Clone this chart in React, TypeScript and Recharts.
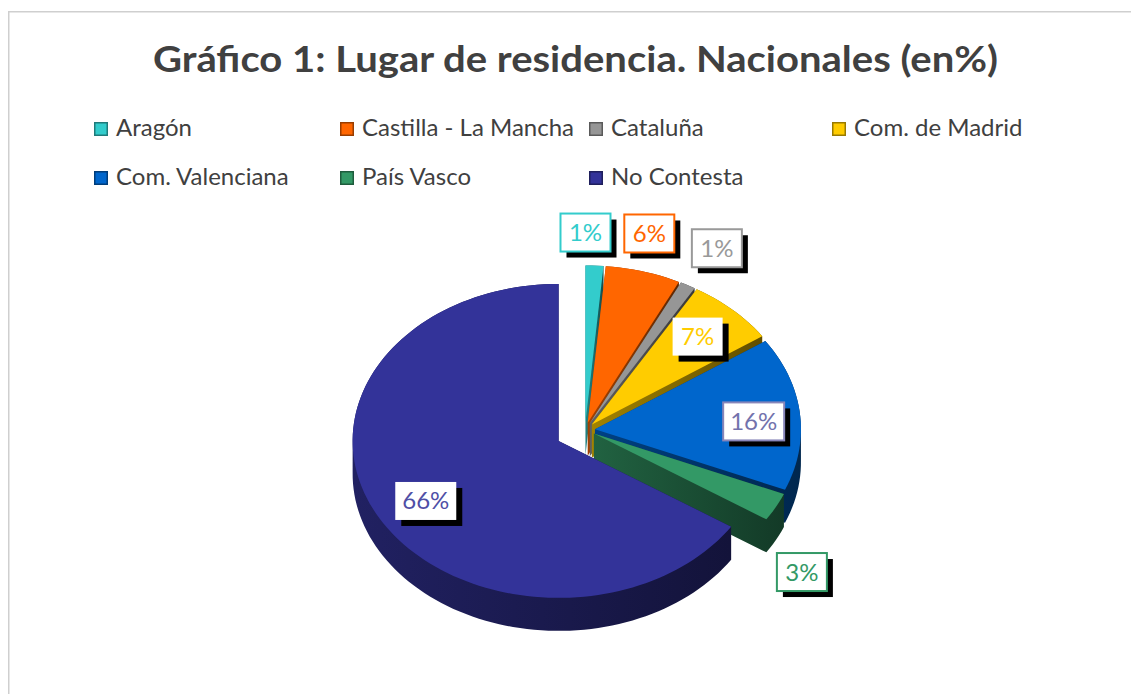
import React from 'react';
import { PieChart, Pie, Cell, Legend } from 'recharts';

const REGIONS = ['Aragón', 'Castilla - La Mancha', 'Cataluña', 'Com. de Madrid', 'Com. Valenciana', 'País Vasco', 'No Contesta'];
const SHARES = [1.4, 5.9, 1.2, 7.0, 15.8, 2.9, 65.8];
const COLORS = ['#33CCCC', '#FF6600', '#969696', '#FFCC00', '#0066CC', '#339966', '#333399'];

const data = REGIONS.map((name, i) => ({ name, value: SHARES[i] }));

// 3d look
const TILT = 157 / 206;
const DEPTH = 33;
const EXPLODE = [10, 10, 10, 10, 10, 10, 30];

// value boxes
const LABEL_INSIDE = [false, false, false, true, true, false, true];
const LABEL_NUDGE = [[-9, -33], [6, -38], [29, -37], [0, -2], [5, 4], [26, 65], [3, 4]];
const LABEL_TEXT = ['#33CCCC', '#FF6600', '#999999', '#FFCC00', '#7272AC', '#339966', '#4F4FA6'];
const LABEL_BORDER = ['#33CCCC', '#FF6600', '#999999', 'none', '#8886BA', '#339966', 'none'];

const LEGEND_COLS = [94, 340, 589, 832];
const LEGEND_ROWS = [122, 171];

const FONT = "Lato, 'Open Sans', sans-serif";
const RAD = Math.PI / 180;

type Pt = [number, number];

const shade = (hex: string, f: number) => {
  const n = parseInt(hex.slice(1), 16);
  const r = Math.round(((n >> 16) & 255) * f);
  const g = Math.round(((n >> 8) & 255) * f);
  const b = Math.round((n & 255) * f);
  return `rgb(${r},${g},${b})`;
};

const toPath = (pts: Pt[]) => 'M' + pts.map(([x, y]) => `${x.toFixed(2)},${y.toFixed(2)}`).join('L') + 'Z';

const area = (pts: Pt[]) => {
  let s = 0;
  for (let i = 0; i < pts.length; i++) {
    const a = pts[i];
    const b = pts[(i + 1) % pts.length];
    s += a[0] * b[1] - b[0] * a[1];
  }
  return s / 2;
};

const orient = (q: Pt[]) => (area(q) < 0 ? [...q].reverse() : q);

function sliceGeometry(p: any) {
  const idx = p.index ?? REGIONS.indexOf(p.name);
  const e = EXPLODE[idx] ?? 0;
  const m = p.midAngle * RAD;
  const ax = p.cx + e * Math.cos(m);
  const ay = p.cy - e * TILT * Math.sin(m);
  const rx = p.outerRadius;
  const ry = p.outerRadius * TILT;
  const span = p.endAngle - p.startAngle;
  const steps = Math.max(2, Math.ceil(Math.abs(span) / 2));
  const pts: Pt[] = [[ax, ay]];
  for (let s = 0; s <= steps; s++) {
    const a = (p.startAngle + (span * s) / steps) * RAD;
    pts.push([ax + rx * Math.cos(a), ay - ry * Math.sin(a)]);
  }
  return { idx, pts, ax, ay, rx, ry, m };
}

function extrusionPath(pts: Pt[]) {
  const parts: string[] = [];
  parts.push(toPath(orient(pts.map(([x, y]) => [x, y + DEPTH] as Pt))));
  for (let i = 0; i < pts.length; i++) {
    const a = pts[i];
    const b = pts[(i + 1) % pts.length];
    const q: Pt[] = [a, b, [b[0], b[1] + DEPTH], [a[0], a[1] + DEPTH]];
    if (Math.abs(area(q)) < 0.01) continue;
    parts.push(toPath(orient(q)));
  }
  return parts.join(' ');
}

const renderSlice = (props: any) => {
  const { idx, pts } = sliceGeometry(props);
  const color = COLORS[idx];
  const gid = `side-${idx}`;
  return (
    <g key={`slice-${idx}`}>
      <defs>
        <linearGradient id={gid} x1="0" y1="0" x2="1" y2="0">
          <stop offset="0" stopColor={shade(color, 0.64)} />
          <stop offset="1" stopColor={shade(color, 0.38)} />
        </linearGradient>
      </defs>
      <path d={extrusionPath(pts)} fill={`url(#${gid})`} />
      <path d={toPath(pts)} fill={color} />
    </g>
  );
};

const renderValueBox = (props: any) => {
  const { idx, ax, ay, rx, ry, m } = sliceGeometry(props);
  const f = LABEL_INSIDE[idx] ? 0.75 : 1;
  const [nx, ny] = LABEL_NUDGE[idx];
  const x = ax + f * rx * Math.cos(m) + nx;
  const y = ay - f * ry * Math.sin(m) + ny;
  const text = `${Math.round(props.percent * 100)}%`;
  const w = text.length > 2 ? 61 : 50;
  const h = 38;
  return (
    <g key={`box-${idx}`}>
      <rect x={x - w / 2 + 6} y={y - h / 2 + 6} width={w} height={h} fill="#000" />
      <rect
        x={x - w / 2}
        y={y - h / 2}
        width={w}
        height={h}
        fill="#fff"
        stroke={LABEL_BORDER[idx]}
        strokeWidth={2}
      />
      <text x={x} y={y + 8.5} textAnchor="middle" fontFamily={FONT} fontSize={24} fill={LABEL_TEXT[idx]}>
        {text}
      </text>
    </g>
  );
};

const LegendGrid = () => (
  <svg width={1131} height={200} style={{ display: 'block' }}>
    {REGIONS.map((name, i) => {
      const x = LEGEND_COLS[i % 4];
      const y = LEGEND_ROWS[Math.floor(i / 4)];
      return (
        <g key={name}>
          <rect x={x + 0.75} y={y + 0.75} width={12.5} height={12.5} fill={COLORS[i]} stroke={shade(COLORS[i], 0.6)} strokeWidth={1.5} />
          <text x={x + 22} y={y + 14} fontFamily={FONT} fontSize={24} fill="#404040">
            {name}
          </text>
        </g>
      );
    })}
  </svg>
);

export default function App() {
  return (
    <div style={{ position: 'absolute', left: 0, top: 0, width: 1131, height: 694, background: '#fff', overflow: 'hidden' }}>
      <svg width={1131} height={694} style={{ position: 'absolute', left: 0, top: 0 }}>
        <rect x={8.75} y={11.75} width={1200} height={800} fill="none" stroke="#cfcfcf" strokeWidth={1.5} />
        <text x={153} y={72} fontFamily={FONT} fontWeight={700} fontSize={36} fill="#404040" textLength={845} lengthAdjust="spacingAndGlyphs">
          Gráfico 1: Lugar de residencia. Nacionales (en%)
        </text>
      </svg>
      <div style={{ position: 'absolute', left: 0, top: 0 }}>
        <PieChart width={1131} height={694} margin={{ top: 0, right: 0, bottom: 0, left: 0 }}>
          <Pie
            data={data}
            dataKey="value"
            nameKey="name"
            cx={585}
            cy={430}
            outerRadius={206}
            startAngle={90}
            endAngle={-270}
            stroke="none"
            isAnimationActive={false}
            labelLine={false}
            label={renderSlice}
          >
            {data.map((d) => (
              <Cell key={d.name} fill="transparent" />
            ))}
          </Pie>
          <Pie
            data={data}
            dataKey="value"
            nameKey="name"
            cx={585}
            cy={430}
            outerRadius={206}
            startAngle={90}
            endAngle={-270}
            stroke="none"
            legendType="none"
            isAnimationActive={false}
            labelLine={false}
            label={renderValueBox}
          >
            {data.map((d) => (
              <Cell key={d.name} fill="transparent" />
            ))}
          </Pie>
          <Legend content={() => <LegendGrid />} wrapperStyle={{ top: 0, left: 0, width: 1131, height: 200 }} />
        </PieChart>
      </div>
    </div>
  );
}
